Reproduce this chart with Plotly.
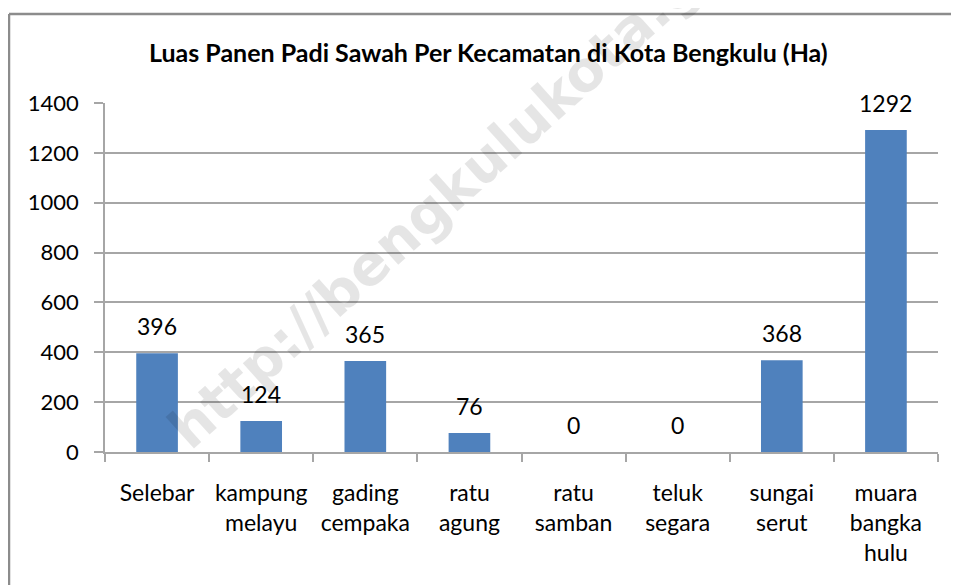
import plotly.graph_objects as go

categories = ["Selebar", "kampung<br>melayu", "gading<br>cempaka", "ratu<br>agung",
              "ratu<br>samban", "teluk<br>segara", "sungai<br>serut", "muara<br>bangka<br>hulu"]
values = [396, 124, 365, 76, 0, 0, 368, 1292]
y_ticks = [0, 200, 400, 600, 800, 1000, 1200, 1400]
title_text = "Luas Panen Padi Sawah Per Kecamatan di Kota Bengkulu (Ha)"
watermark = "http://bengkulukota.go.id"

# the page body adds an 8px margin, so the figure is drawn slightly smaller
OFF = 8
W, H = 959 - OFF, 585 - OFF
ML, MT = 105 - OFF, 103 - OFF
MR = W - (938 - OFF)
MB = H - (452 - OFF)
PW, PH = W - ML - MR, H - MT - MB


def px_x(px):
    return (px - OFF - ML) / PW


def px_y(py):
    return (H - MB - (py - OFF)) / PH


FONT = "Lato"
grid_col = "#a6a6a6"

fig = go.Figure()
fig.add_trace(go.Bar(
    x=categories, y=values,
    marker=dict(color="#4f81bd", line=dict(width=0)),
    width=0.4,
    hoverinfo="skip",
))

annotations = []
for c, v in zip(categories, values):
    annotations.append(dict(
        x=c, y=v, xref="x", yref="y", text=str(v), showarrow=False,
        yanchor="middle", yshift=27,
        font=dict(family=FONT, size=23, color="#000000"),
    ))

annotations.append(dict(
    x=px_x(488), y=px_y(52), xref="paper", yref="paper",
    text="<b>" + title_text + "</b>", showarrow=False,
    xanchor="center", yanchor="middle",
    font=dict(family=FONT, size=25, color="#000000"),
))

annotations.append(dict(
    x=px_x(478), y=px_y(166), xref="paper", yref="paper",
    text="<b>" + watermark + "</b>", showarrow=False,
    textangle=-42, xanchor="center", yanchor="middle",
    font=dict(family="DejaVu Sans", size=56, color="rgba(0,0,0,0.1)"),
))

shapes = [
    dict(type="line", xref="paper", yref="paper",
         x0=px_x(9), x1=px_x(965), y0=px_y(14), y1=px_y(14),
         line=dict(color="#8c8c8c", width=2.5)),
    dict(type="line", xref="paper", yref="paper",
         x0=px_x(9), x1=px_x(9), y0=px_y(14), y1=px_y(600),
         line=dict(color="#8c8c8c", width=2.5)),
]

fig.update_layout(
    width=W, height=H,
    margin=dict(l=ML, r=MR, t=MT, b=MB),
    paper_bgcolor="white", plot_bgcolor="white",
    showlegend=False,
    annotations=annotations,
    shapes=shapes,
    font=dict(family=FONT, size=22, color="#000000"),
    xaxis=dict(
        showgrid=False, showline=True, linecolor=grid_col, linewidth=1.5,
        ticks="outside", tickson="boundaries", ticklen=8, tickcolor=grid_col,
        tickwidth=1.5, tickfont=dict(family=FONT, size=23, color="#000"),
        ticklabelstandoff=20,
    ),
    yaxis=dict(
        range=[0, 1400], tickvals=y_ticks, ticktext=[str(t) for t in y_ticks],
        showgrid=True, gridcolor=grid_col, gridwidth=1.5,
        showline=True, linecolor=grid_col, linewidth=1.5,
        ticks="outside", ticklen=9, tickcolor=grid_col, tickwidth=1.5,
        tickfont=dict(family=FONT, size=22, color="#000"),
        zeroline=False, ticklabelstandoff=11,
    ),
)

fig.write_html("out.html")
